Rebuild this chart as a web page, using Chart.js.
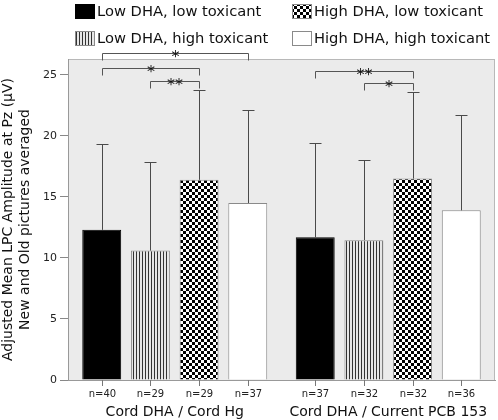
<!DOCTYPE html>
<html>
<head>
<meta charset="utf-8">
<script src="https://cdn.jsdelivr.net/npm/chart.js@4"></script>
<style>
  html, body { margin: 0; padding: 0; background: #fff; }
  #wrap { width: 498px; height: 420px; }
</style>
</head>
<body>
<div id="wrap"><canvas id="main-chart" width="498" height="420"></canvas></div>
<script>
// ====== data ======
const groups = ["Cord DHA / Cord Hg", "Cord DHA / Current PCB 153"];
const seriesNames = ["Low DHA, low toxicant", "Low DHA, high toxicant", "High DHA, low toxicant", "High DHA, high toxicant"];

// bar means
const lowLow   = [12.3, 11.7];
const lowHigh  = [10.6, 11.45];
const highLow  = [16.4, 16.5];
const highHigh = [14.5, 13.9];

// top of the error whiskers
const lowLowTop   = [19.3, 19.4];
const lowHighTop  = [17.9, 18.0];
const highLowTop  = [23.8, 23.6];
const highHighTop = [22.1, 21.7];

// sample sizes under each bar
const lowLowN   = [40, 37];
const lowHighN  = [29, 32];
const highLowN  = [29, 32];
const highHighN = [37, 36];

const yTicks = [0, 5, 10, 15, 20, 25];

// significance brackets: group, from bar, to bar, height, stars
const brackets = [
  [0, 0, 3, 26.8, "*"],
  [0, 0, 2, 25.6, "*"],
  [0, 1, 2, 24.5, "**"],
  [1, 0, 2, 25.3, "**"],
  [1, 1, 2, 24.3, "*"]
];

const FONT = "'DejaVu Sans', Verdana, sans-serif";
const ctx = document.getElementById("main-chart").getContext("2d");

// fill patterns
function stripePattern() {
  const c = document.createElement("canvas");
  c.width = 3; c.height = 3;
  const g = c.getContext("2d");
  g.fillStyle = "#e6e6e6"; g.fillRect(0, 0, 3, 3);
  g.fillStyle = "#333"; g.fillRect(1, 0, 1, 3);
  return ctx.createPattern(c, "repeat");
}
function checkerPattern() {
  const c = document.createElement("canvas");
  c.width = 6; c.height = 6;
  const g = c.getContext("2d");
  g.fillStyle = "#fff"; g.fillRect(0, 0, 6, 6);
  g.fillStyle = "#000";
  g.fillRect(0, 0, 3, 3);
  g.fillRect(3, 3, 3, 3);
  return ctx.createPattern(c, "repeat");
}

const errTops = [lowLowTop, lowHighTop, highLowTop, highHighTop];
const nCounts = [lowLowN, lowHighN, highLowN, highHighN];

// gray plot background with frame
const plotBg = {
  id: "plotBg",
  beforeDraw(chart) {
    const a = chart.chartArea, c = chart.ctx;
    c.save();
    c.fillStyle = "#ebebeb";
    c.fillRect(a.left, a.top, a.right - a.left, a.bottom - a.top);
    c.strokeStyle = "#b8b8b8";
    c.lineWidth = 1;
    c.strokeRect(a.left + 0.5, a.top + 0.5, a.right - a.left - 1, a.bottom - a.top);
    c.restore();
  }
};

// whiskers, x ticks, n labels, brackets, legend
const extras = {
  id: "extras",
  afterDatasetsDraw(chart) {
    const c = chart.ctx, y = chart.scales.y, a = chart.chartArea;
    c.save();
    chart.data.datasets.forEach((ds, i) => {
      chart.getDatasetMeta(i).data.forEach((bar, j) => {
        const x = Math.round(bar.x) + 0.5;
        const yTop = Math.round(y.getPixelForValue(errTops[i][j])) + 0.5;
        c.strokeStyle = "#4a4a4a";
        c.lineWidth = 1;
        c.beginPath();
        c.moveTo(x, bar.y); c.lineTo(x, yTop);
        c.moveTo(x - 6, yTop); c.lineTo(x + 6, yTop);
        c.stroke();
        // x tick
        c.strokeStyle = "#777";
        c.beginPath();
        c.moveTo(x, a.bottom); c.lineTo(x, a.bottom + 6);
        c.stroke();
        c.fillStyle = "#222";
        c.font = "10px " + FONT;
        c.textAlign = "center";
        c.textBaseline = "middle";
        c.fillText("n=" + nCounts[i][j], x, a.bottom + 14);
      });
    });
    brackets.forEach(([g, from, to, h, stars]) => {
      const x1 = Math.round(chart.getDatasetMeta(from).data[g].x) + 0.5;
      const x2 = Math.round(chart.getDatasetMeta(to).data[g].x) + 0.5;
      const yb = Math.round(y.getPixelForValue(h)) + 0.5;
      c.strokeStyle = "#555";
      c.lineWidth = 1;
      c.beginPath();
      c.moveTo(x1, yb + 7); c.lineTo(x1, yb); c.lineTo(x2, yb); c.lineTo(x2, yb + 7);
      c.stroke();
      c.fillStyle = "#111";
      c.font = "16px " + FONT;
      c.textAlign = "center";
      c.textBaseline = "alphabetic";
      c.fillText(stars, (x1 + x2) / 2, yb + 8);
    });
    // legend, two columns
    const order = [[0, 75, 4], [2, 292, 4], [1, 75, 31], [3, 292, 31]];
    order.forEach(([i, lx, ly]) => {
      const ds = chart.data.datasets[i];
      c.fillStyle = ds.backgroundColor;
      c.fillRect(lx, ly, 20, 15);
      c.strokeStyle = ds.borderColor;
      c.strokeRect(lx + 0.5, ly + 0.5, 19, 14);
      c.fillStyle = "#111";
      c.font = "14.7px " + FONT;
      c.textAlign = "left";
      c.textBaseline = "middle";
      c.fillText(seriesNames[i], lx + 22, ly + 8);
    });
    c.restore();
  }
};

const barData = [lowLow, lowHigh, highLow, highHigh];
const fills = ["#000000", stripePattern(), checkerPattern(), "#ffffff"];
const borders = ["#000000", "#8a8a8a", "#8a8a8a", "#8a8a8a"];

new Chart(ctx, {
  type: "bar",
  data: {
    labels: groups,
    datasets: barData.map((vals, i) => ({
      label: seriesNames[i],
      data: vals,
      backgroundColor: fills[i],
      borderColor: borders[i],
      borderWidth: 1,
      categoryPercentage: 0.912,
      barPercentage: 0.8
    }))
  },
  options: {
    responsive: false,
    animation: false,
    layout: { padding: { top: 59, right: 3, left: 0, bottom: 0 } },
    plugins: { legend: { display: false }, tooltip: { enabled: false } },
    scales: {
      x: {
        grid: { display: false },
        border: { color: "#999" },
        ticks: { color: "#111", font: { family: FONT, size: 14 }, padding: 16, maxRotation: 0 },
        afterFit(s) { s.height = 40; s.paddingLeft = 0; s.paddingRight = 0; }
      },
      y: {
        min: 0,
        max: 26.3,
        afterBuildTicks(s) { s.ticks = yTicks.map(v => ({ value: v })); },
        grid: { drawOnChartArea: false, tickLength: 8, color: "#888" },
        border: { color: "#999" },
        ticks: { color: "#222", font: { family: FONT, size: 11 }, padding: 3 },
        title: {
          display: true,
          text: ["Adjusted Mean LPC Amplitude at Pz (\u00b5V)", "New and Old pictures averaged"],
          color: "#111",
          font: { family: FONT, size: 14 },
          padding: { top: 0, bottom: 0 }
        },
        afterFit(s) { s.width = 68; s.paddingTop = 0; s.paddingBottom = 0; }
      }
    }
  },
  plugins: [plotBg, extras]
});
</script>
</body>
</html>
